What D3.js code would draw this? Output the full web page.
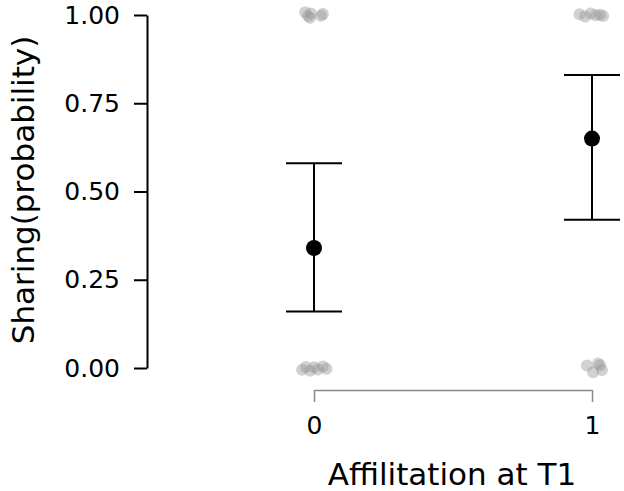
<!DOCTYPE html>
<html>
<head>
<meta charset="utf-8">
<script src="https://cdn.jsdelivr.net/npm/d3@7"></script>
<style>
  body { margin: 0; background: #fff; }
  text { font-family: "DejaVu Sans", sans-serif; fill: #000; }
</style>
</head>
<body>
<div id="chart"></div>
<script>
// summary values per group (mean and interval)
var groups = [0, 1];
var means = [0.34, 0.65];
var lower = [0.16, 0.42];
var upper = [0.58, 0.83];

var obsX = [-0.032, -0.022, -0.011, -0.014, 0.025, 0.032,
            0.955, 0.975, 0.996, 1.014, 1.029, 1.040,
            -0.043, -0.029, -0.014, 0.000, 0.014, 0.032, 0.045,
            0.982, 1.004, 1.029, 1.036, 1.022];
var obsY = [1.008, 0.997, 1.004, 0.992, 0.998, 1.003,
            1.002, 0.996, 1.004, 0.999, 1.001, 0.997,
            -0.005, 0.003, -0.008, 0.002, -0.004, 0.004, -0.002,
            0.007, -0.012, 0.008, -0.006, 0.013];

var yTicks = [0, 0.25, 0.5, 0.75, 1];

var width = 624, height = 491;

var svg = d3.select('#chart').append('svg')
  .attr('width', width)
  .attr('height', height);

var x = d3.scaleLinear().domain([0, 1]).range([314, 592]);
var y = d3.scaleLinear().domain([0, 1]).range([368, 15]);

// y axis
var yAxis = svg.append('g')
  .attr('transform', 'translate(147,0)')
  .call(d3.axisLeft(y).tickValues(yTicks).tickFormat(d3.format('.2f')).tickSize(13).tickSizeOuter(0).tickPadding(14));
yAxis.select('.domain').attr('stroke', '#000').attr('stroke-width', 2);
yAxis.selectAll('.tick line').attr('stroke', '#000').attr('stroke-width', 2);
yAxis.selectAll('.tick text')
  .attr('font-size', '25px')
  .attr('font-family', '"DejaVu Sans", sans-serif')
  .attr('fill', '#000');

// x axis (bracket style)
var xAxis = svg.append('g')
  .attr('transform', 'translate(0,390)')
  .call(d3.axisBottom(x).tickValues(groups).tickFormat(d3.format('d')).tickSize(12).tickSizeOuter(0).tickPadding(14));
xAxis.select('.domain').attr('stroke', '#888').attr('stroke-width', 1.5);
xAxis.selectAll('.tick line').attr('stroke', '#888').attr('stroke-width', 1.5);
xAxis.selectAll('.tick text')
  .attr('font-size', '25px')
  .attr('font-family', '"DejaVu Sans", sans-serif')
  .attr('fill', '#000');

// raw points
svg.append('g').selectAll('circle')
  .data(obsX)
  .enter().append('circle')
  .attr('cx', function (d) { return x(d); })
  .attr('cy', function (d, i) { return y(obsY[i]); })
  .attr('r', 6)
  .attr('fill', '#999')
  .attr('fill-opacity', 0.45);

// error bars
var bars = svg.append('g').selectAll('g')
  .data(groups)
  .enter().append('g');

var capHalf = 28;

bars.append('line')
  .attr('x1', function (d) { return x(d); })
  .attr('x2', function (d) { return x(d); })
  .attr('y1', function (d, i) { return y(lower[i]); })
  .attr('y2', function (d, i) { return y(upper[i]); })
  .attr('stroke', '#000').attr('stroke-width', 2);

bars.append('line')
  .attr('x1', function (d) { return x(d) - capHalf; })
  .attr('x2', function (d) { return x(d) + capHalf; })
  .attr('y1', function (d, i) { return y(upper[i]); })
  .attr('y2', function (d, i) { return y(upper[i]); })
  .attr('stroke', '#000').attr('stroke-width', 2);

bars.append('line')
  .attr('x1', function (d) { return x(d) - capHalf; })
  .attr('x2', function (d) { return x(d) + capHalf; })
  .attr('y1', function (d, i) { return y(lower[i]); })
  .attr('y2', function (d, i) { return y(lower[i]); })
  .attr('stroke', '#000').attr('stroke-width', 2);

bars.append('circle')
  .attr('cx', function (d) { return x(d); })
  .attr('cy', function (d, i) { return y(means[i]); })
  .attr('r', 8)
  .attr('fill', '#000');

// axis titles
svg.append('text')
  .attr('x', 452)
  .attr('y', 485)
  .attr('text-anchor', 'middle')
  .attr('font-size', '31px')
  .text('Affilitation at T1');

svg.append('text')
  .attr('transform', 'translate(34,190) rotate(-90)')
  .attr('text-anchor', 'middle')
  .attr('font-size', '31px')
  .text('Sharing(probability)');
</script>
</body>
</html>
